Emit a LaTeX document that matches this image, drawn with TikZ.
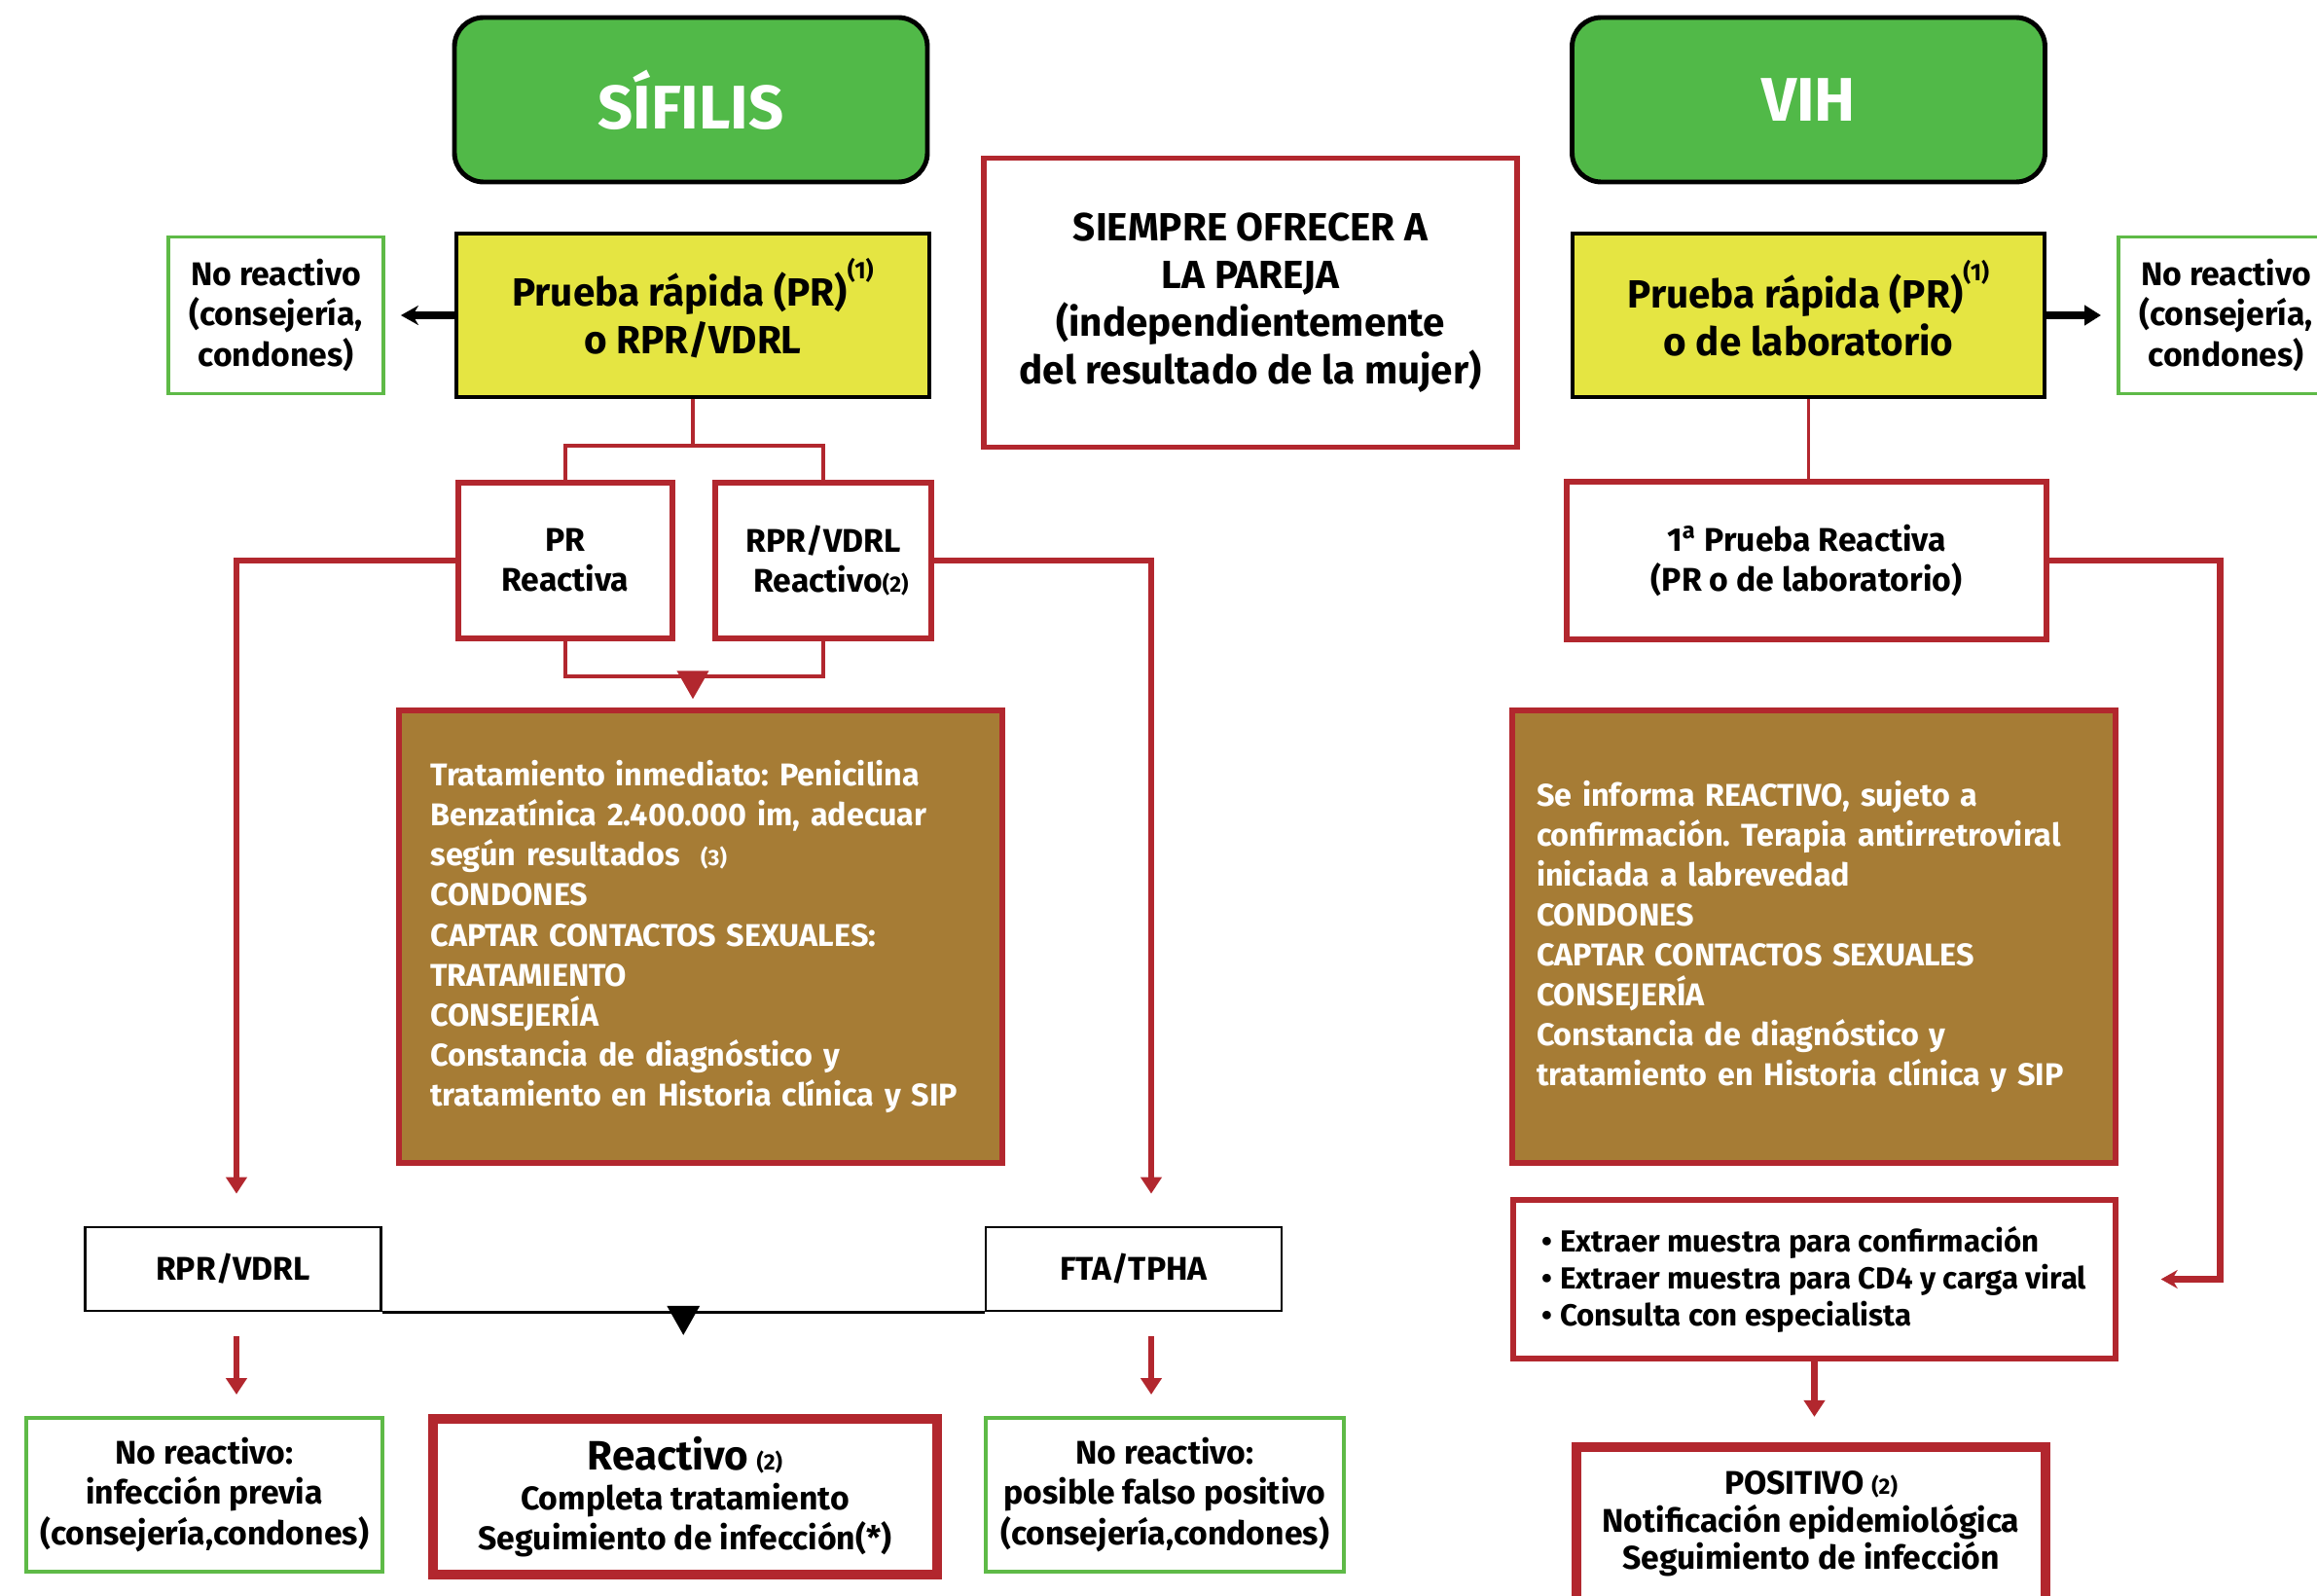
\documentclass[tikz,border=0pt]{standalone}
\usepackage{fontspec}
\setmainfont{Fira Sans}
\usepackage{xcolor}
\usepackage{tikz}
\usetikzlibrary{arrows.meta}
\frenchspacing
\definecolor{titlegreen}{RGB}{81,185,72}
\definecolor{testyellow}{RGB}{229,229,66}
\definecolor{boxbrown}{RGB}{166,124,53}
\definecolor{boxred}{RGB}{178,39,46}
\definecolor{bordergreen}{RGB}{94,186,71}
\newcommand{\txtnorm}{\fontsize{9.6}{11.7}\selectfont\bfseries}
\newcommand{\txtbig}{\fontsize{11.5}{13.9}\selectfont\bfseries}
\newcommand{\txtbrown}{\fontsize{9.2}{11.7}\selectfont\bfseries\hyphenpenalty=10000\relax}
\newcommand{\txtnote}{\fontsize{6.5}{7}\selectfont}
\newcommand{\refnote}[1]{\raisebox{8pt}[0pt][0pt]{\fontsize{7}{8}\selectfont(#1)}}
\tikzset{
  MyTitle/.style={
    rectangle, rounded corners=3mm,
    minimum width=4.86cm, minimum height=1.69cm,
    line width=1.4pt, draw=black, fill=titlegreen,
    text=white, font=\fontsize{18}{21}\selectfont\bfseries,
  },
  MyTest/.style={
    rectangle, minimum width=4.86cm, minimum height=1.68cm,
    line width=1.3pt, draw=black, fill=testyellow,
    align=center, font=\txtbig,
  },
  MyGreen/.style={
    rectangle, line width=1.1pt, draw=bordergreen, fill=white,
    align=center, font=\txtnorm,
  },
  MyRed/.style={
    rectangle, line width=1.5pt, draw=boxred, fill=white,
    align=center, font=\txtnorm,
  },
  MyBrown/.style={
    rectangle, line width=1.5pt, draw=boxred, fill=boxbrown,
    text=white, align=left, minimum height=4.65cm, font=\txtbrown,
  },
  MyPlain/.style={
    rectangle, line width=0.8pt, draw=black, fill=white,
    minimum width=3.04cm, minimum height=0.86cm, font=\txtnorm,
  },
  MyResult/.style={
    rectangle, line width=2.9pt, draw=boxred, fill=white,
    align=center, font=\txtnorm,
  },
  MyLine/.style={line width=1.1pt, draw=boxred},
  MyLong/.style={line width=1.8pt, draw=boxred},
  MyArrow/.style={line width=2pt, draw=black},
}

\begin{document}
\begin{tikzpicture}
\clip (0,0) rectangle (23.81,-16.40);
% cabeceras
\node[MyTitle] (SIF) at (7.10,-1.025) {SÍFILIS};
\node[MyTitle] (VIH) at (18.585,-1.025) {VIH};
\node[MyRed, minimum width=5.48cm, minimum height=2.97cm, font=\txtbig] (PAREJA) at (12.85,-3.11) {SIEMPRE OFRECER A\\LA PAREJA\\(independientemente\\del resultado de la mujer)};
% sifilis
\node[MyTest] (PRS) at (7.12,-3.24) {Prueba rápida (PR)\refnote{1}\\o RPR/VDRL};
\node[MyGreen, minimum width=2.21cm, minimum height=1.61cm] (NRS) at (2.835,-3.24) {No reactivo\\(consejería,\\condones)};
\node[MyRed, minimum width=2.20cm, minimum height=1.60cm] (PRR) at (5.81,-5.76) {PR\\Reactiva};
\node[MyRed, minimum width=2.22cm, minimum height=1.60cm] (RPRR) at (8.46,-5.76) {RPR/VDRL\\\ \ Reactivo{\txtnote(2)}};
\node[MyBrown, text width=5.55cm, inner xsep=3.25mm] (TRS) at (7.20,-9.625) {Tratamiento inmediato: Penicilina\\Benzatínica 2.400.000 im, adecuar\\según resultados \ {\txtnote(3)}\\CONDONES\\CAPTAR CONTACTOS SEXUALES:\\TRATAMIENTO\\CONSEJERÍA\\Constancia de diagnóstico y\\tratamiento en Historia clínica y SIP};
\node[MyPlain] (RPR) at (2.395,-13.04) {RPR/VDRL};
\node[MyPlain] (FTA) at (11.65,-13.04) {FTA/TPHA};
\node[MyGreen, minimum width=3.66cm, minimum height=1.58cm] (NRA) at (2.10,-15.36) {No reactivo:\\infección previa\\(consejería,condones)};
\node[MyResult, minimum width=5.18cm, minimum height=1.60cm] (REA) at (7.04,-15.38) {{\fontsize{12}{13}\selectfont Reactivo} {\txtnote(2)}\\Completa tratamiento\\Seguimiento de infección(*)};
\node[MyGreen, minimum width=3.68cm, minimum height=1.58cm] (NRB) at (11.97,-15.36) {No reactivo:\\posible falso positivo\\(consejería,condones)};
% vih
\node[MyTest, minimum width=4.85cm] (PRV) at (18.585,-3.24) {Prueba rápida (PR)\refnote{1}\\o de laboratorio};
\node[MyGreen, minimum width=2.21cm, minimum height=1.61cm] (NRV) at (22.875,-3.24) {No reactivo\\(consejería,\\condones)};
\node[MyRed, minimum width=4.93cm, minimum height=1.62cm] (PRI) at (18.565,-5.76) {1\textsuperscript{a} Prueba Reactiva\\(PR o de laboratorio)};
\node[MyBrown, text width=5.7cm, inner xsep=2.5mm] (TRV) at (18.64,-9.625) {Se informa REACTIVO, sujeto a\\confirmación. Terapia antirretroviral\\iniciada a labrevedad\\CONDONES\\CAPTAR CONTACTOS SEXUALES\\CONSEJERÍA\\Constancia de diagnóstico y\\tratamiento en Historia clínica y SIP};
\node[MyRed, align=left, minimum width=6.19cm, minimum height=1.63cm, font=\fontsize{8.9}{10.8}\selectfont\bfseries] (EXT) at (18.645,-13.145) {• Extraer muestra para confirmación\\• Extraer muestra para CD4 y carga viral\\• Consulta con especialista};
\node[MyResult, minimum width=4.82cm, minimum height=1.58cm, font=\fontsize{9.6}{11}\selectfont\bfseries] (POS) at (18.61,-15.66) {POSITIVO {\txtnote(2)}\\Notificación epidemiológica\\Seguimiento de infección};
% conectores sifilis
\draw[MyArrow, -{Stealth[width=2mm,length=1.8mm]}, shorten >=1.6mm] (PRS.west) -- (NRS.east);
\draw[MyLine] (PRS.south) -- ++(0,-0.48) coordinate (brS);
\draw[MyLine] (PRR.north) |- (brS) -| (RPRR.north);
\draw[MyLine] (PRR.south) -- ++(0,-0.36) coordinate (brL) -| (RPRR.south);
\draw[MyLine, -{Triangle[width=3.2mm,length=2.9mm]}, shorten >=0.9mm] (PRS.south |- brL) -- (PRS.south |- TRS.north);
\draw[MyLong, -{Triangle[width=2.1mm,length=1.7mm]}, shorten >=3.3mm] (PRR.west) -| ([xshift=0.35mm]RPR.north);
\draw[MyLong, -{Triangle[width=2.1mm,length=1.7mm]}, shorten >=3.3mm] (RPRR.east) -| ([xshift=1.8mm]FTA.north);
\draw[MyLong, -{Triangle[width=2.1mm,length=1.7mm]}, shorten <=2.5mm, shorten >=2.2mm] ([xshift=0.35mm]RPR.south) -- ([xshift=0.35mm]RPR.south |- NRA.north);
\draw[MyLong, -{Triangle[width=2.1mm,length=1.7mm]}, shorten <=2.5mm, shorten >=2.2mm] ([xshift=1.8mm]FTA.south) -- ([xshift=1.8mm]FTA.south |- NRB.north);
\draw[line width=0.9pt] (RPR.south east) -- coordinate[midway] (mid) (FTA.south west);
\draw[line width=0.9pt, -{Triangle[width=3.3mm,length=3mm]}, shorten >=8.1mm] (mid) -- (mid |- REA.north);
% conectores vih
\draw[MyArrow, -{Triangle[width=2mm,length=1.7mm]}, shorten >=1.6mm] (PRV.east) -- (NRV.west);
\draw[MyLine] (PRV.south) -- (PRV.south |- PRI.north);
\draw[MyLong, -{Stealth[width=1.9mm,length=1.7mm]}, shorten >=4.4mm] (PRI.east) -| ([xshift=10.5mm]EXT.east) -- (EXT.east);
\draw[MyLong, -{Triangle[width=2.1mm,length=1.7mm]}, shorten >=2.6mm] (EXT.south) -- (EXT.south |- POS.north);
\end{tikzpicture}
\end{document}
